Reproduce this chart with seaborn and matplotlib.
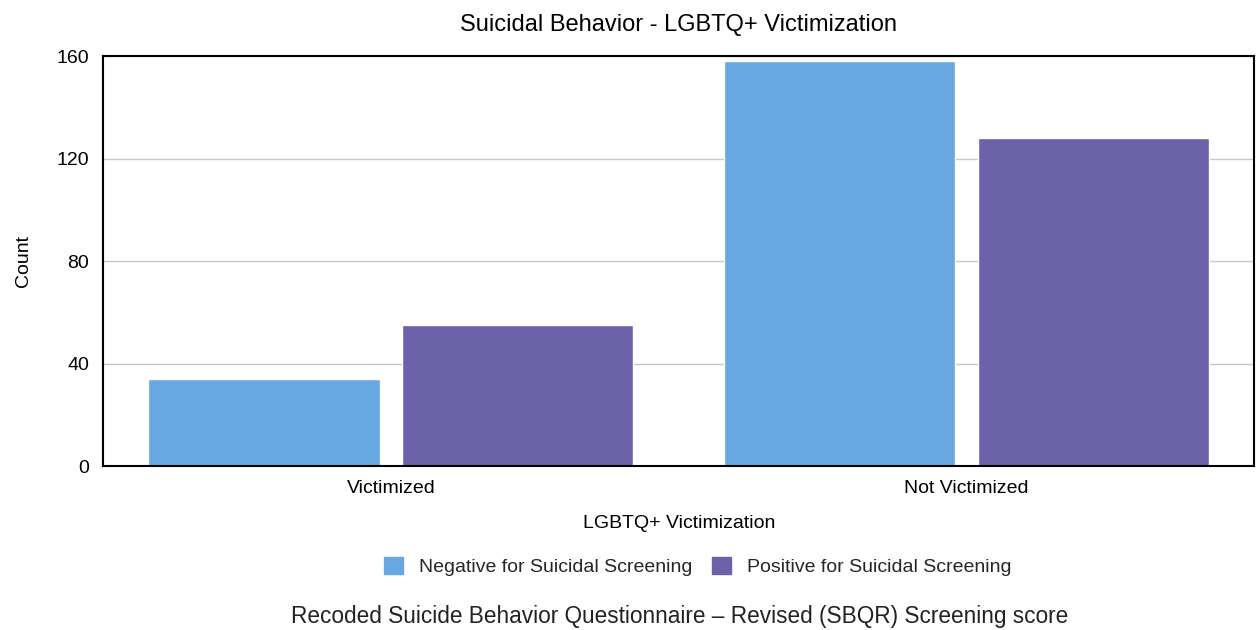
import seaborn as sns
import matplotlib.pyplot as plt
import pandas as pd

categories = ["Victimized", "Not Victimized"]
screening = ["Negative for Suicidal Screening", "Positive for Suicidal Screening"]
negative_counts = [34, 158]
positive_counts = [55, 128]
colors = ["#67A8E2", "#6C62AA"]

df = pd.DataFrame({
    "victimization": categories * 2,
    "screening": [screening[0]] * 2 + [screening[1]] * 2,
    "count": negative_counts + positive_counts,
})

sns.set_style("white")
plt.rcParams["font.family"] = ["Liberation Sans", "DejaVu Sans"]

fig = plt.figure(figsize=(12.57, 6.30), dpi=100)
ax = fig.add_axes([0.082, 0.260, 0.916, 0.651])

sns.barplot(data=df, x="victimization", y="count", hue="screening",
            order=categories, hue_order=screening, palette=colors,
            width=0.882, gap=0.09, saturation=1, ax=ax, legend=False)

ax.set_ylim(0, 160)
ax.set_yticks([0, 40, 80, 120, 160])
ax.yaxis.grid(True, color="#c8c8c8", linewidth=1)
ax.set_axisbelow(True)
for s in ax.spines.values():
    s.set_visible(True)
    s.set_color("black")
    s.set_linewidth(1.5)
ax.tick_params(axis="both", length=0, labelsize=14, pad=10, labelcolor="black")
ax.set_xlabel("LGBTQ+ Victimization", fontsize=14, labelpad=13, color="black")
ax.set_ylabel("Count", fontsize=14, labelpad=18, color="black")
ax.set_title("Suicidal Behavior - LGBTQ+ Victimization", fontsize=17, pad=18, color="black")

handles = [plt.Rectangle((0, 0), 1, 1, color=c) for c in colors]
fig.legend(handles, screening, loc="center", bbox_to_anchor=(0.555, 0.101),
           ncol=2, frameon=False, fontsize=14, handlelength=1.0,
           handleheight=1.0, columnspacing=1.0, handletextpad=0.8)

fig.text(0.541, 0.022, "Recoded Suicide Behavior Questionnaire \u2013 Revised (SBQR) Screening score",
         ha="center", va="center", fontsize=16.3, color="#222222")

fig.savefig("out.png", dpi=100)
